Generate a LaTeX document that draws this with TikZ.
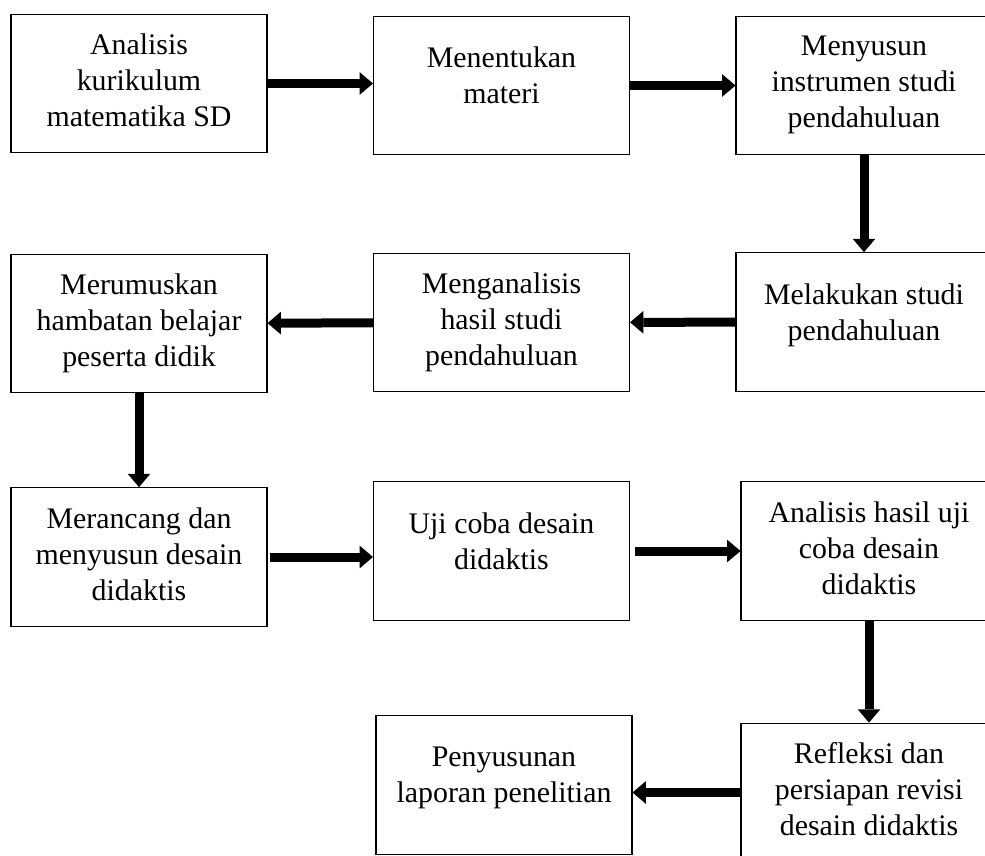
\documentclass[tikz,border=0pt]{standalone}
\usepackage{fontspec}
\setmainfont{Liberation Serif}
\usetikzlibrary{arrows.meta}

\begin{document}
\begin{tikzpicture}[x=0.75pt, y=-0.75pt,
        box/.style={draw, line width=0.8pt, minimum width=192pt, minimum height=104pt,
            inner sep=2pt, align=center, text depth=5pt,
            font=\fontsize{22.4}{27}\selectfont},
        shortbox/.style={box, text depth=15pt},
        flow/.style={line width=6.75pt, -{Triangle[length=10pt, width=17pt, line width=0pt]}}]
        % --- SETTINGS ---
        \def\colA{139}
        \def\colB{501.5}
        \def\colC{864}

        % canvas (right column is cut off by the page edge)
        \path[use as bounding box] (0,0) rectangle (985,856);
        \clip (0,0) rectangle (985,856);

        % =========================================
        % ROW 1
        % =========================================
        \node[box] (kurikulum) at (\colA, 83.5) {Analisis\\kurikulum\\matematika SD};
        \node[shortbox] (materi) at (\colB, 85.5) {Menentukan\\materi};
        \node[box] (instrumen) at (\colC, 85.5) {Menyusun\\instrumen studi\\pendahuluan};

        % =========================================
        % ROW 2
        % =========================================
        \node[box] (hambatan) at (\colA, 323.5) {Merumuskan\\hambatan belajar\\peserta didik};
        \node[box] (analisis) at (\colB, 322.5) {Menganalisis\\hasil studi\\pendahuluan};
        \node[shortbox] (studi) at (\colC, 322) {Melakukan studi\\pendahuluan};

        % =========================================
        % ROW 3
        % =========================================
        \node[box] (rancang) at (\colA, 557) {Merancang dan\\menyusun desain\\didaktis};
        \node[shortbox] (ujicoba) at (\colB, 551) {Uji coba desain\\didaktis};
        \node[box] (hasiluji) at (\colC+5, 551) {Analisis hasil uji\\coba desain\\didaktis};

        % =========================================
        % ROW 4
        % =========================================
        \node[shortbox] (laporan) at (\colB+2.5, 785) {Penyusunan\\laporan penelitian};
        \node[box] (refleksi) at (\colC+5, 792.5) {Refleksi dan\\persiapan revisi\\desain didaktis};

        % Flow Arrows
        \draw[flow] (kurikulum.east) -- (kurikulum.east -| materi.west);
        \draw[flow] (materi) -- (instrumen);
        \draw[flow] (instrumen) -- (studi);
        \draw[flow] (studi) -- (analisis);
        \draw[flow] (analisis) -- (hambatan);
        \draw[flow] (hambatan) -- (rancang);
        \draw[flow, shorten <=2pt] (rancang.east) -- (rancang.east -| ujicoba.west);
        \draw[flow, shorten <=4pt] (ujicoba) -- (hasiluji);
        \draw[flow] (hasiluji) -- (refleksi);
        \draw[flow] (refleksi.west) -- (refleksi.west -| laporan.east);

    \end{tikzpicture}
\end{document}
